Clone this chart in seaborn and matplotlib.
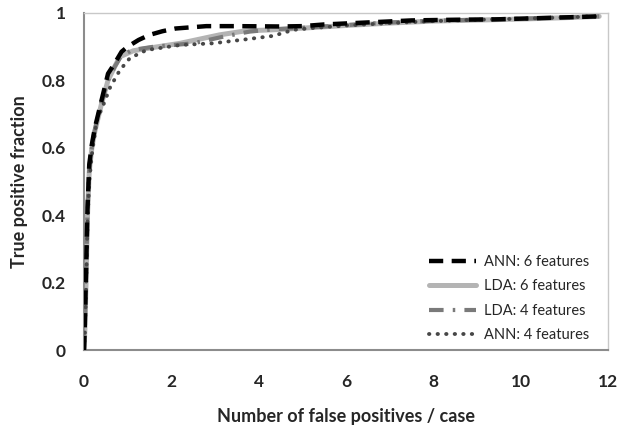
import matplotlib
matplotlib.use("Agg")
import matplotlib.pyplot as plt
import seaborn as sns
import pandas as pd

# ---- data ----
ann6_x = [0, 0.02, 0.05, 0.08, 0.12, 0.18, 0.25, 0.4, 0.55, 0.7, 0.86, 1.0, 1.25, 1.5, 1.8, 2.1, 2.8, 3.5, 4.5, 5.0, 5.5, 6.5, 7.5, 8.5, 9.4, 10.5, 11.8]
ann6_y = [0, 0.08, 0.25, 0.42, 0.55, 0.61, 0.66, 0.74, 0.82, 0.85, 0.885, 0.90, 0.92, 0.935, 0.946, 0.954, 0.961, 0.961, 0.96, 0.961, 0.966, 0.972, 0.978, 0.98, 0.981, 0.985, 0.99]

lda6_x = [0, 0.02, 0.05, 0.08, 0.12, 0.18, 0.25, 0.4, 0.55, 0.7, 0.82, 1.13, 1.6, 2.2, 3.1, 3.7, 4.3, 5.0, 6.0, 7.0, 8.0, 9.0, 10.0, 11.0, 11.8]
lda6_y = [0, 0.06, 0.22, 0.40, 0.53, 0.60, 0.65, 0.73, 0.80, 0.84, 0.87, 0.888, 0.898, 0.91, 0.935, 0.947, 0.95, 0.955, 0.963, 0.97, 0.976, 0.979, 0.982, 0.986, 0.99]

lda4_x = [0, 0.02, 0.05, 0.08, 0.12, 0.18, 0.25, 0.4, 0.55, 0.7, 0.85, 1.1, 1.6, 2.5, 3.2, 3.8, 4.4, 5.0, 6.0, 7.0, 8.0, 9.0, 10.0, 11.0, 11.8]
lda4_y = [0, 0.07, 0.24, 0.41, 0.54, 0.60, 0.655, 0.735, 0.80, 0.84, 0.872, 0.89, 0.90, 0.91, 0.93, 0.945, 0.952, 0.956, 0.964, 0.972, 0.977, 0.98, 0.983, 0.987, 0.99]

ann4_x = [0, 0.02, 0.05, 0.08, 0.12, 0.18, 0.29, 0.45, 0.6, 0.82, 1.05, 1.43, 2.2, 2.95, 3.72, 4.33, 4.8, 5.2, 6.0, 7.0, 8.0, 9.0, 10.0, 11.0, 11.8]
ann4_y = [0, 0.05, 0.20, 0.38, 0.50, 0.58, 0.68, 0.73, 0.78, 0.83, 0.866, 0.89, 0.905, 0.91, 0.922, 0.932, 0.95, 0.955, 0.963, 0.97, 0.976, 0.98, 0.983, 0.987, 0.99]

labels = ["ANN: 6 features", "LDA: 6 features", "LDA: 4 features", "ANN: 4 features"]
x_ticks = [0, 2, 4, 6, 8, 10, 12]
y_ticks = [0, 0.2, 0.4, 0.6, 0.8, 1.0]
y_tick_labels = ["0", "0.2", "0.4", "0.6", "0.8", "1"]

sns.set_style("white")
plt.rcParams["font.family"] = ["Lato", "DejaVu Sans"]

fig = plt.figure(figsize=(6.2, 4.26), dpi=100)
ax = fig.add_axes([0.1355, 0.1784, 0.845, 0.7911])

styles = [
    dict(color="black", lw=3.2, dashes=(3.2, 1.9), zorder=5),
    dict(color="#b4b4b4", lw=3.6, zorder=2),
    dict(color="#7a7a7a", lw=3.0, dashes=(3.5, 2.2, 0.6, 2.2), zorder=3),
    dict(color="#474747", lw=2.8, dashes=(0.1, 2.1), dash_capstyle="round", zorder=4),
]
series = [(ann6_x, ann6_y), (lda6_x, lda6_y), (lda4_x, lda4_y), (ann4_x, ann4_y)]

for (xs, ys), lab, st in zip(series, labels, styles):
    df = pd.DataFrame({"x": xs, "y": ys})
    st = dict(st)
    dashes = st.pop("dashes", None)
    capstyle = st.pop("dash_capstyle", None)
    sns.lineplot(data=df, x="x", y="y", ax=ax, sort=False, label=lab,
                 color=st["color"], linewidth=st["lw"], zorder=st["zorder"])
    line = ax.get_lines()[-1]
    if dashes is not None:
        line.set_dashes(dashes)
    if capstyle is not None:
        line.set_dash_capstyle(capstyle)

ax.set_xlim(0, 12)
ax.set_ylim(0, 1)
ax.set_xticks(x_ticks)
ax.set_xticklabels([str(t) for t in x_ticks])
ax.set_yticks(y_ticks)
ax.set_yticklabels(y_tick_labels)
ax.tick_params(axis="both", which="major", labelsize=12.5, length=5, width=1.2,
               color="#8c8c8c", direction="out")
ax.tick_params(axis="x", pad=12)
ax.tick_params(axis="y", pad=8)
for lab in ax.get_xticklabels() + ax.get_yticklabels():
    lab.set_fontweight("bold")

ax.set_xlabel("Number of false positives / case", fontsize=13, fontweight="bold", labelpad=13)
ax.set_ylabel("True positive fraction", fontsize=13, fontweight="bold", labelpad=10)

for side in ["left", "bottom"]:
    ax.spines[side].set_color("#8c8c8c")
    ax.spines[side].set_linewidth(1.5)
for side in ["top", "right"]:
    ax.spines[side].set_color("#c8c8c8")
    ax.spines[side].set_linewidth(1.0)

leg = ax.legend(loc="lower right", frameon=False, fontsize=10.5, handlelength=3.2,
                handletextpad=0.55, labelspacing=0.72, borderaxespad=0.0,
                bbox_to_anchor=(0.975, 0.005))

fig.savefig("out.png", dpi=100)
